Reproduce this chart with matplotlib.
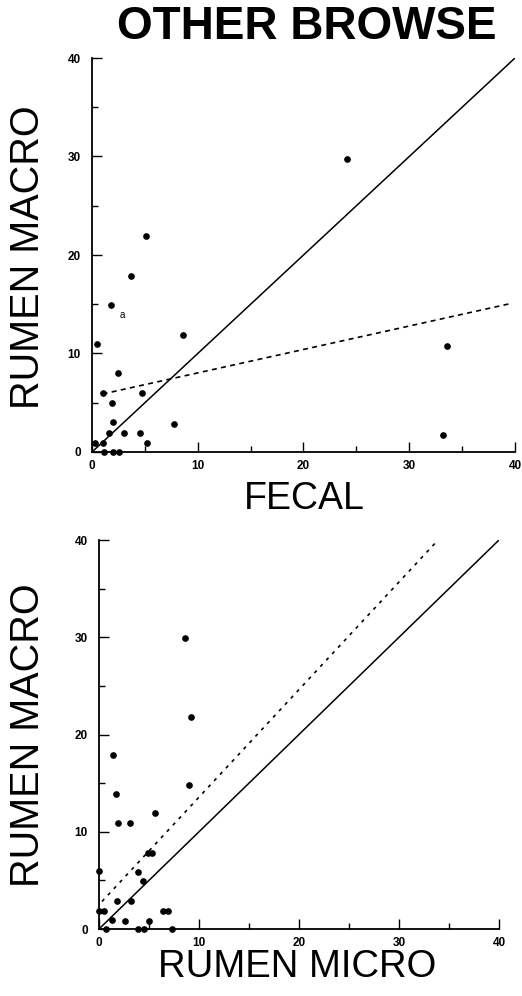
import numpy
from matplotlib import pyplot

pyplot.rcParams['font.family'] = ['Liberation Sans', 'DejaVu Sans']

fecal = [5.1, 3.7, 1.8, 8.6, 0.5, 2.5, 1.0, 4.7, 1.9, 2.0, 7.75, 1.6, 3.0, 4.5,
         0.3, 1.0, 5.2, 1.1, 2.0, 2.6, 24.1, 33.6, 33.2]
macro_top = [21.9, 17.9, 14.9, 11.9, 11.0, 8.0, 6.0, 6.0, 5.0, 3.0, 2.85, 1.9, 1.9, 1.9,
             0.95, 0.95, 0.9, 0.0, 0.0, 0.0, 29.7, 10.8, 1.7]

micro = [8.6, 9.2, 1.4, 1.7, 9.0, 1.9, 3.1, 5.6, 4.9, 5.3, 0.0, 3.9, 4.4, 1.8, 3.2,
         0.0, 0.5, 6.4, 6.9, 1.3, 2.6, 5.0, 0.7, 3.9, 4.5, 7.3]
macro_bot = [29.9, 21.8, 17.9, 13.9, 14.8, 10.9, 10.9, 11.9, 7.85, 7.85, 6.0, 5.9, 4.9, 2.9, 2.9,
             1.9, 1.9, 1.8, 1.8, 0.9, 0.85, 0.85, 0.0, 0.0, 0.0, 0.0]

# Rectas de regresión (intercepto, pendiente, rango x)
fit_top = (5.65, 0.238, 1.0, 39.7)
fit_bot = (2.5, 1.106, 0.3, 33.8)

ticks = [0, 10, 20, 30, 40]

W, H = 522, 996
fig = pyplot.figure(figsize=(W / 100, H / 100), dpi=100)


def make_axes(left, top, right, bottom):
    ax = fig.add_axes([left / W, 1 - bottom / H, (right - left) / W, (bottom - top) / H])
    ax.set_xlim(0, 40)
    ax.set_ylim(0, 40)
    for s in ['top', 'right']:
        ax.spines[s].set_visible(False)
    for s in ['left', 'bottom']:
        ax.spines[s].set_linewidth(1.3)
    ax.set_xticks(ticks)
    ax.set_yticks(ticks)
    ax.set_xticks([5, 15, 25, 35], minor=True)
    ax.set_yticks([5, 15, 25, 35], minor=True)
    ax.tick_params(which='major', direction='in', length=7, width=1, pad=8, labelsize=8.5)
    ax.tick_params(axis='x', which='major', pad=6)
    ax.tick_params(which='minor', direction='in', length=4, width=1)
    for lab in ax.get_xticklabels() + ax.get_yticklabels():
        lab.set_fontweight('bold')
    return ax


def fit_line(ax, fit, dashes):
    a, b, x0, x1 = fit
    xs = numpy.array([x0, x1])
    ax.plot(xs, a + b * xs, color='black', linewidth=1.2, dashes=dashes)


# Panel superior
ax1 = make_axes(92, 58, 515, 452)
ax1.plot([0, 40], [0, 40], color='black', linewidth=1.1)
fit_line(ax1, fit_top, (3, 2.6))
ax1.plot(fecal, macro_top, 'o', color='black', markersize=3.8, clip_on=False)
ax1.text(2.9, 13.9, 'a', fontsize=7, ha='center', va='center')

# Panel inferior
ax2 = make_axes(99, 540, 499, 929)
ax2.plot([0, 40], [0, 40], color='black', linewidth=1.1)
fit_line(ax2, fit_bot, (2, 3.2))
ax2.plot(micro, macro_bot, 'o', color='black', markersize=3.8, clip_on=False)

# Textos
fig.text(307 / W, 1 - 27 / H, 'OTHER BROWSE', fontsize=33, fontweight='bold',
         ha='center', va='center')
fig.text(28 / W, 1 - 257 / H, 'RUMEN MACRO', fontsize=28.5, rotation=90,
         ha='center', va='center')
fig.text(304 / W, 1 - 499 / H, 'FECAL', fontsize=27, ha='center', va='center')
fig.text(28 / W, 1 - 735 / H, 'RUMEN MACRO', fontsize=28.5, rotation=90,
         ha='center', va='center')
fig.text(297 / W, 1 - 967 / H, 'RUMEN MICRO', fontsize=27.5, ha='center', va='center')

pyplot.savefig('out.png', dpi=100)
pyplot.close()
